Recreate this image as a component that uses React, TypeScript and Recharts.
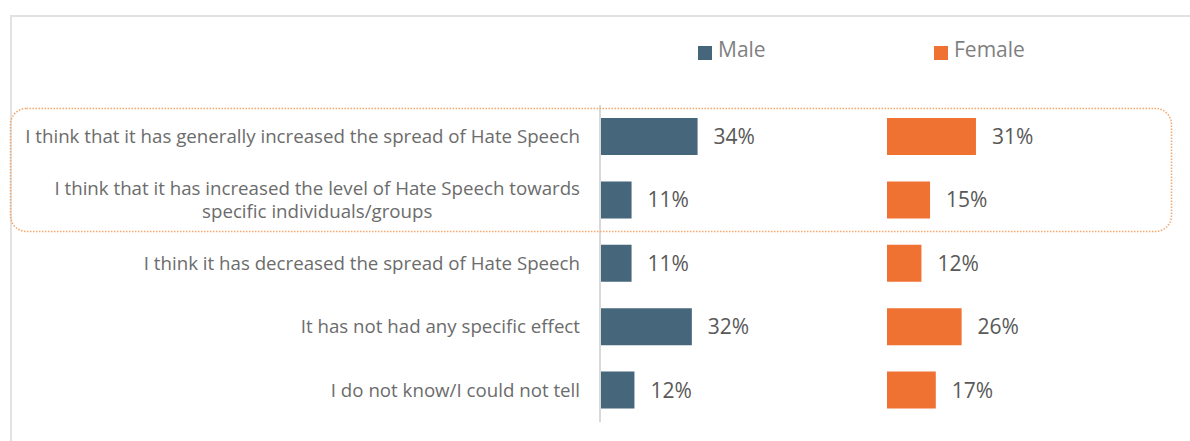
import React from 'react';
import { BarChart, Bar, XAxis, YAxis, LabelList, Legend } from 'recharts';

const categories = [
  'I think that it has generally increased the spread of Hate Speech',
  'I think that it has increased the level of Hate Speech towards specific individuals/groups',
  'I think it has decreased the spread of Hate Speech',
  'It has not had any specific effect',
  'I do not know/I could not tell',
];
const maleValues = [34, 11, 11, 32, 12];
const femaleValues = [31, 15, 12, 26, 17];

const data = categories.map((c, i) => ({ category: c, male: maleValues[i], female: femaleValues[i] }));

const FONT = '"Open Sans", Lato, sans-serif';
const LABEL_SIZE = 18.7;
const MALE = '#46667B';
const FEMALE = '#F07233';
const TEXT = '#595959';
const CAT_TEXT = '#6c6c6c';
const AXIS = '#d9d9d9';

let ctx: CanvasRenderingContext2D | null = null;
function textWidth(s: string) {
  if (!ctx) ctx = document.createElement('canvas').getContext('2d');
  if (!ctx) return s.length * 8;
  ctx.font = `${LABEL_SIZE}px ${FONT}`;
  return ctx.measureText(s).width;
}

function wrap(s: string, max: number) {
  const words = s.split(' ');
  const lines: string[] = [];
  let cur = '';
  words.forEach(w => {
    const next = cur ? cur + ' ' + w : w;
    if (cur && textWidth(next) > max) {
      lines.push(cur);
      cur = w;
    } else cur = next;
  });
  if (cur) lines.push(cur);
  return lines;
}

// multi-line labels: block right-aligned, lines centred within it (like Excel)
const CategoryTick = (props: any) => {
  const { x, y, payload } = props;
  const lines = wrap(payload.value, 570);
  const w = Math.max(...lines.map(textWidth));
  const cx = x - w / 2;
  const lh = 23;
  const y0 = y - ((lines.length - 1) * lh) / 2;
  return (
    <g>
      {lines.map((l, i) => (
        <text key={i} x={cx} y={y0 + i * lh} dy="0.35em" textAnchor="middle"
          fontFamily={FONT} fontSize={LABEL_SIZE} fill={CAT_TEXT}>
          {l}
        </text>
      ))}
    </g>
  );
};

const legendText = (value: string) => (
  <span style={{ color: '#7f7f7f', fontSize: 21, fontFamily: FONT, marginLeft: 2 }}>{value}</span>
);

export default function App() {
  return (
    <div style={{ position: 'fixed', left: 0, top: 0, width: 1190, height: 441, background: '#fff' }}>
      <div style={{ position: 'absolute', left: 10, top: 15, right: 0, bottom: 0,
        borderLeft: `2px solid #e2e2e2`, borderTop: `2px solid #e2e2e2` }} />
      <div style={{ position: 'absolute', left: 0, top: 0 }}>
        <BarChart width={887} height={441} data={data} layout="vertical"
          margin={{ top: 105, right: 0, bottom: 19, left: 0 }} barSize={37}>
          <XAxis type="number" domain={[0, 100]} hide />
          <YAxis type="category" dataKey="category" width={600} tickSize={0} tickMargin={20}
            axisLine={{ stroke: AXIS, strokeWidth: 2 }} tickLine={false} tick={<CategoryTick />}
            interval={0} />
          <Legend verticalAlign="middle" iconType="square" iconSize={14} formatter={legendText}
            wrapperStyle={{ top: 35, left: 698, width: 'auto' }} />
          <Bar dataKey="male" name="Male" fill={MALE} isAnimationActive={false}>
            <LabelList dataKey="male" position="right" offset={16}
              formatter={(v: any) => `${v}%`} fill={TEXT} fontSize={21} fontFamily={FONT} />
          </Bar>
        </BarChart>
      </div>
      <div style={{ position: 'absolute', left: 886, top: 0 }}>
        <BarChart width={304} height={441} data={data} layout="vertical"
          margin={{ top: 105, right: 16, bottom: 19, left: 1 }} barSize={37}>
          <XAxis type="number" domain={[0, 100]} hide />
          <YAxis type="category" dataKey="category" width={0} tick={false} tickLine={false}
            axisLine={{ stroke: AXIS, strokeWidth: 2 }} />
          <Legend verticalAlign="middle" iconType="square" iconSize={14} formatter={legendText}
            wrapperStyle={{ top: 35, left: 48, width: 'auto' }} />
          <Bar dataKey="female" name="Female" fill={FEMALE} isAnimationActive={false}>
            <LabelList dataKey="female" position="right" offset={16}
              formatter={(v: any) => `${v}%`} fill={TEXT} fontSize={21} fontFamily={FONT} />
          </Bar>
        </BarChart>
      </div>
      <svg width={1190} height={441} style={{ position: 'absolute', left: 0, top: 0, pointerEvents: 'none' }}>
        <rect x={10.5} y={108.5} width={1161} height={123} rx={16} ry={16} fill="none"
          stroke="#F5A66B" strokeWidth={1.5} strokeDasharray="1.5 1.5" />
      </svg>
    </div>
  );
}
